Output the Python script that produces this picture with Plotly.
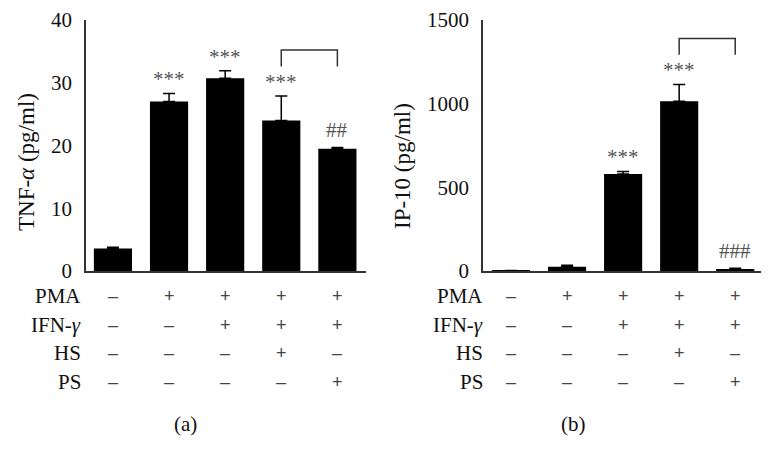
import plotly.graph_objects as go

# data
groups = [0, 1, 2, 3, 4]
tnf_mean = [3.6, 27.0, 30.7, 24.0, 19.5]
tnf_err = [0.2, 1.3, 1.2, 3.9, 0.2]
tnf_marks = ["", "***", "***", "***", "##"]
ip10_mean = [2, 25, 580, 1015, 8]
ip10_err = [1, 10, 15, 100, 8]
ip10_marks = ["", "", "***", "***", "###"]

row_names = ["PMA", "IFN-<i>γ</i>", "HS", "PS"]
treat = {
    "PMA": ["–", "+", "+", "+", "+"],
    "IFN-<i>γ</i>": ["–", "–", "+", "+", "+"],
    "HS": ["–", "–", "–", "+", "–"],
    "PS": ["–", "–", "–", "–", "+"],
}
row_y = [296, 325, 353, 382]  # pixel rows of the table

W, H = 777, 468
OFF = 8  # page body margin
SERIF = "Liberation Serif"


def px(p):
    return (p - OFF) / W


def py(p):
    return 1 - (p - OFF) / H


fig = go.Figure()

fig.add_trace(go.Bar(x=groups, y=tnf_mean, width=0.68, marker_color="black",
                     marker_line_width=0,
                     error_y=dict(type="data", array=tnf_err, arrayminus=[0]*5, symmetric=False,
                                  color="black", thickness=1.5, width=6),
                     xaxis="x", yaxis="y", showlegend=False))
fig.add_trace(go.Bar(x=groups, y=ip10_mean, width=0.68, marker_color="black",
                     marker_line_width=0,
                     error_y=dict(type="data", array=ip10_err, arrayminus=[0]*5, symmetric=False,
                                  color="black", thickness=1.5, width=6),
                     xaxis="x2", yaxis="y2", showlegend=False))

ann = []
# significance marks
for xs, ys, es, ms, xr, yr in [(groups, tnf_mean, tnf_err, tnf_marks, "x", "y"),
                                (groups, ip10_mean, ip10_err, ip10_marks, "x2", "y2")]:
    for x, y, e, m in zip(xs, ys, es, ms):
        if m:
            ann.append(dict(x=x, y=y + e, xref=xr, yref=yr, text=m, showarrow=False,
                            xanchor="center", yanchor="bottom",
                            yshift=0 if m.startswith("*") else 3,
                            font=dict(family=SERIF, size=21, color="#555")))

# treatment table
for xr, lab_x in [("x", 83), ("x2", 485)]:
    for name, yy in zip(row_names, row_y):
        ann.append(dict(x=px(lab_x), y=py(yy), xref="paper", yref="paper", text=name,
                        showarrow=False, xanchor="right", yanchor="middle",
                        font=dict(family=SERIF, size=21, color="#111")))
        for g, s in zip(groups, treat[name]):
            ann.append(dict(x=g, y=py(yy), xref=xr, yref="paper", text=s, showarrow=False,
                            xanchor="center", yanchor="middle",
                            font=dict(family="Liberation Sans", size=18, color="#444")))

# y titles and panel letters
ann.append(dict(x=px(27), y=py(162), xref="paper", yref="paper", text="TNF-<i>α</i> (pg/ml)",
                textangle=-90, showarrow=False, xanchor="center", yanchor="middle",
                font=dict(family=SERIF, size=23, color="#111")))
ann.append(dict(x=px(402), y=py(166), xref="paper", yref="paper", text="IP-10 (pg/ml)",
                textangle=-90, showarrow=False, xanchor="center", yanchor="middle",
                font=dict(family=SERIF, size=23, color="#111")))
ann.append(dict(x=px(185), y=py(424), xref="paper", yref="paper", text="(a)",
                showarrow=False, xanchor="center", yanchor="middle",
                font=dict(family=SERIF, size=21, color="#111")))
ann.append(dict(x=px(573), y=py(424), xref="paper", yref="paper", text="(b)",
                showarrow=False, xanchor="center", yanchor="middle",
                font=dict(family=SERIF, size=21, color="#111")))

# brackets between groups 3 and 4
shapes = [
    dict(type="path", path="M 3,32.6 L 3,35.2 L 4,35.2 L 4,32.6", xref="x", yref="y",
         line=dict(color="#333", width=1.5)),
    dict(type="path", path="M 3,1292 L 3,1390 L 4,1390 L 4,1292", xref="x2", yref="y2",
         line=dict(color="#333", width=1.5)),
]

axis_x = dict(showticklabels=False, ticks="", showgrid=False, zeroline=False, automargin=False,
              showline=True, linecolor="#333", linewidth=1.5)
axis_y = dict(ticks="", showgrid=False, zeroline=False, showline=True, linecolor="#333",
              linewidth=1.5, ticklabelstandoff=8, automargin=False, ticklabeloverflow="allow",
              tickfont=dict(family=SERIF, size=21, color="#111"))

fig.update_layout(
    width=W, height=H, margin=dict(l=0, r=0, t=0, b=0, autoexpand=False),
    paper_bgcolor="white", plot_bgcolor="white",
    xaxis=dict(axis_x, domain=[px(86), px(366)], range=[-0.48, 4.51], anchor="y"),
    yaxis=dict(axis_y, domain=[py(271), py(20)], range=[0, 40], tickvals=[0, 10, 20, 30, 40],
               anchor="x"),
    xaxis2=dict(axis_x, domain=[px(483), px(761)], range=[-0.5, 4.46], anchor="y2"),
    yaxis2=dict(axis_y, domain=[py(271), py(20)], range=[0, 1500], tickvals=[0, 500, 1000, 1500],
                anchor="x2"),
    annotations=ann, shapes=shapes,
)

fig.write_html("out.html")
